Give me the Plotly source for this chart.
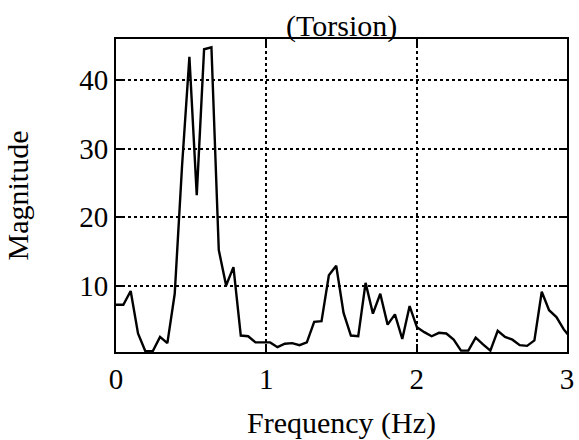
import numpy as np
import plotly.graph_objects as go

# Spectrum bins: 100 Hz sampling, 2048-point FFT -> 0.0488 Hz resolution
bin_index = list(range(63))
freq_hz = [k * 100.0 / 2048.0 for k in bin_index]

magnitude = [
    7.2, 7.2, 9.2, 3.0, 0.4, 0.4, 2.5, 1.6, 8.8, 27.5,
    43.4, 23.2, 44.5, 44.8, 15.2, 10.0, 12.7, 2.7, 2.6, 1.7,
    1.7, 1.7, 1.0, 1.5, 1.6, 1.3, 1.7, 4.7, 4.8, 11.5,
    12.9, 6.0, 2.7, 2.6, 10.4, 5.9, 8.8, 4.3, 5.8, 2.2,
    7.0, 3.9, 3.2, 2.6, 3.1, 3.0, 2.1, 0.5, 0.5, 2.4,
    1.4, 0.5, 3.4, 2.5, 2.1, 1.3, 1.2, 2.0, 9.1, 6.4,
    5.4, 3.6, 2.3,
]

x_ticks = [0, 1, 2, 3]
y_ticks = [10, 20, 30, 40]

FONT = "Liberation Serif"

fig = go.Figure()
fig.add_trace(go.Scatter(
    x=freq_hz, y=magnitude, mode="lines",
    line=dict(color="black", width=2.4),
    cliponaxis=True, showlegend=False,
))

axis_common = dict(
    showline=True, linecolor="black", linewidth=2,
    mirror="ticks", ticks="inside", ticklen=8, tickwidth=1.5, tickcolor="black",
    showgrid=True, gridcolor="black", gridwidth=1.5, griddash="dot",
    zeroline=False, automargin=False,
    tickfont=dict(family=FONT, size=29, color="black"),
)

fig.update_xaxes(
    range=[0, 3], tickvals=x_ticks, ticktext=[str(v) for v in x_ticks],
    title=dict(text="Frequency (Hz)", font=dict(family=FONT, size=30, color="black"),
               standoff=22),
    **axis_common,
)
fig.update_yaxes(
    range=[0.3, 46], tickvals=y_ticks, ticktext=[str(v) for v in y_ticks],
    title=dict(text="Magnitude", font=dict(family=FONT, size=30, color="black"),
               standoff=42),
    **axis_common,
)

fig.update_layout(
    width=579, height=440,
    margin=dict(l=116, r=12, t=39, b=88),
    paper_bgcolor="white", plot_bgcolor="white",
    title=dict(text="(Torsion)", font=dict(family=FONT, size=30, color="black"),
               x=0.59, xref="container", xanchor="center",
               y=1 - 25 / 440, yref="container", yanchor="middle"),
)

fig.write_html("out.html")
